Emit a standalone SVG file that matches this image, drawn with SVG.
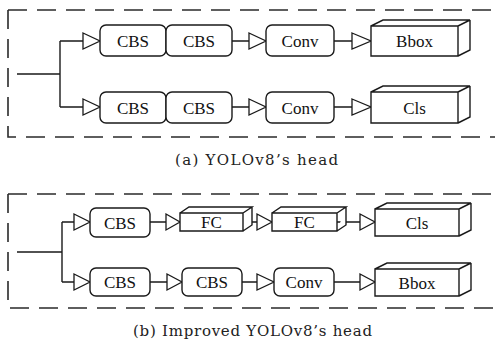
<svg xmlns="http://www.w3.org/2000/svg" width="495" height="345" viewBox="0 0 495 345">
<defs>
<style>
.frame{fill:none;stroke:#2a2a2a;stroke-width:1.6;stroke-dasharray:19 10}
.wire{fill:none;stroke:#1a1a1a;stroke-width:1.4}
.tri{fill:#fff;stroke:#1a1a1a;stroke-width:1.3;stroke-linejoin:miter}
.rbox{fill:#fff;stroke:#1a1a1a;stroke-width:1.4}
.cube{fill:#fff;stroke:#1a1a1a;stroke-width:1.4;stroke-linejoin:miter}
.lbl{font-size:17px;fill:#111;text-anchor:middle}
.cap{font-size:15px;fill:#222;text-anchor:middle}
</style>
</defs>
<rect width="495" height="345" fill="#fff"/>
<path class="frame" d="M8 10 L495 10"/>
<path class="frame" d="M8 10 L8 137 L495 137"/>
<path class="frame" d="M8 194 L495 194"/>
<path class="frame" d="M8 194 L8 308 L495 308"/>

<g id="connectors">
<path class="wire" d="M17 74 H60 M60 41 V107 M60 41 H83 M60 107 H83"/>
<path class="wire" d="M232 41 H249 M334 41 H352 M232 107 H249 M334 107 H352"/>
<polygon class="tri" points="83,33 100,41 83,49"/>
<polygon class="tri" points="83,99 100,107 83,115"/>
<polygon class="tri" points="249,33 266,41 249,49"/>
<polygon class="tri" points="249,99 266,107 249,115"/>
<polygon class="tri" points="352,33 371,41 352,49"/>
<polygon class="tri" points="352,99 371,107 352,115"/>
<path class="wire" d="M17 252 H62 M62 222 V282 M62 222 H74 M62 282 H74"/>
<path class="wire" d="M150 222 H166 M252 222 H257 M337 222 H360"/>
<path class="wire" d="M150 282 H167 M242 282 H257 M334 282 H360"/>
<polygon class="tri" points="74,214 90,222 74,230"/>
<polygon class="tri" points="74,274 90,282 74,290"/>
<polygon class="tri" points="166,214 180,222 166,230"/>
<polygon class="tri" points="257,214 272,222 257,230"/>
<polygon class="tri" points="360,214 375,222 360,230"/>
<polygon class="tri" points="167,274 182,282 167,290"/>
<polygon class="tri" points="257,274 274,282 257,290"/>
<polygon class="tri" points="360,274 375,282 360,290"/>
</g>

<g font-family="'Liberation Serif', 'Times New Roman', 'DejaVu Serif', serif">
<g id="a-cbs1"><rect class="rbox" x="100" y="25" width="66" height="31" rx="6"/><text class="lbl" x="133" y="46.5">CBS</text></g>
<g id="a-cbs2"><rect class="rbox" x="166" y="25" width="66" height="31" rx="6"/><text class="lbl" x="199" y="46.5">CBS</text></g>
<g id="a-conv1"><rect class="rbox" x="266" y="25" width="68" height="31" rx="6"/><text class="lbl" x="300" y="46.5">Conv</text></g>
<g id="a-bbox"><path class="cube" d="M371 26 H458 V56 H371 Z M371 26 L383 20 H470 L458 26 M470 20 V50 L458 56"/><text class="lbl" x="414.5" y="47">Bbox</text></g>
<g id="a-cbs3"><rect class="rbox" x="100" y="92" width="66" height="31" rx="6"/><text class="lbl" x="133" y="113.5">CBS</text></g>
<g id="a-cbs4"><rect class="rbox" x="166" y="92" width="66" height="31" rx="6"/><text class="lbl" x="199" y="113.5">CBS</text></g>
<g id="a-conv2"><rect class="rbox" x="266" y="92" width="68" height="31" rx="6"/><text class="lbl" x="300" y="113.5">Conv</text></g>
<g id="a-cls"><path class="cube" d="M371 92 H458 V123 H371 Z M371 92 L383 86 H470 L458 92 M470 86 V117 L458 123"/><text class="lbl" x="414.5" y="113.5">Cls</text></g>

<g id="b-cbs1"><rect class="rbox" x="90" y="208" width="60" height="29" rx="6"/><text class="lbl" x="120" y="228.5">CBS</text></g>
<g id="b-fc1"><path class="cube" d="M180 213 H243 V231 H180 Z M180 213 L189 207 H252 L243 213 M252 207 V225 L243 231"/><text class="lbl" x="211.5" y="228">FC</text></g>
<g id="b-fc2"><path class="cube" d="M272 213 H337 V231 H272 Z M272 213 L281 207 H346 L337 213 M346 207 V225 L337 231"/><text class="lbl" x="304.5" y="228">FC</text></g>
<g id="b-cls"><path class="cube" d="M375 209 H459 V236 H375 Z M375 209 L387 203 H471 L459 209 M471 203 V230 L459 236"/><text class="lbl" x="417" y="228.5">Cls</text></g>
<g id="b-cbs2"><rect class="rbox" x="90" y="268" width="60" height="28" rx="6"/><text class="lbl" x="120" y="288">CBS</text></g>
<g id="b-cbs3"><rect class="rbox" x="182" y="268" width="60" height="28" rx="6"/><text class="lbl" x="212" y="288">CBS</text></g>
<g id="b-conv"><rect class="rbox" x="274" y="268" width="60" height="28" rx="6"/><text class="lbl" x="304" y="288">Conv</text></g>
<g id="b-bbox"><path class="cube" d="M375 269 H459 V296 H375 Z M375 269 L387 263 H471 L459 269 M471 263 V290 L459 296"/><text class="lbl" x="417" y="288.5">Bbox</text></g>
</g>
<g font-family="'DejaVu Serif', 'Liberation Serif', serif">
<text class="cap" x="256.5" y="165" textLength="163" lengthAdjust="spacing">(a) YOLOv8’s head</text>
<text class="cap" x="252.5" y="336" textLength="239" lengthAdjust="spacing">(b) Improved YOLOv8’s head</text>
</g>
</svg>
